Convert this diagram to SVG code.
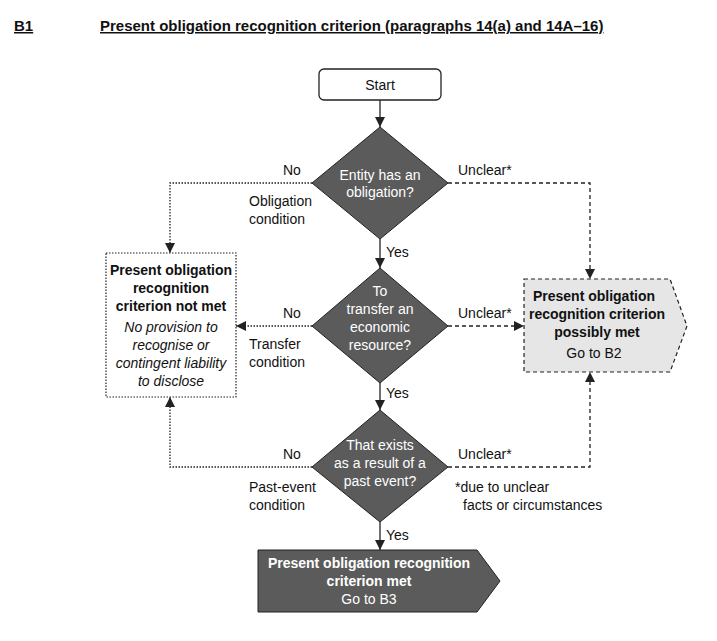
<svg xmlns="http://www.w3.org/2000/svg" width="717" height="641" viewBox="0 0 717 641">
<style>
text{font-family:"Liberation Sans Narrow","Liberation Sans",Arial,sans-serif;font-size:14px;fill:#111}
.b{font-weight:bold}
.w{fill:#fff}
.i{font-style:italic}
.dia{fill:#5b5b5b;stroke:#222;stroke-width:1}
.sol{fill:none;stroke:#222;stroke-width:1.3}
.dot{fill:none;stroke:#222;stroke-width:1.3;stroke-dasharray:1.5 1.5}
.dash{fill:none;stroke:#222;stroke-width:1.3;stroke-dasharray:4 3}
</style>
<defs><marker id="a" viewBox="0 0 10 10" refX="10" refY="5" markerWidth="10" markerHeight="10" markerUnits="userSpaceOnUse" orient="auto"><path d="M0 0L10 5L0 10z" fill="#222"/></marker></defs>
<text x="14" y="31" class="b" style="font-size:15px;text-decoration:underline">B1</text>
<text x="100" y="31" class="b" style="font-size:15px;text-decoration:underline">Present obligation recognition criterion (paragraphs 14(a) and 14A–16)</text>
<g id="connectors">
<path class="sol" d="M380 100V127" marker-end="url(#a)"/>
<path class="sol" d="M380 239V268" marker-end="url(#a)"/>
<path class="sol" d="M380 383V410" marker-end="url(#a)"/>
<path class="sol" d="M380 522V550" marker-end="url(#a)"/>
<path class="dot" d="M312 183H170V253" marker-end="url(#a)"/>
<path class="dot" d="M312 326H236" marker-end="url(#a)"/>
<path class="dot" d="M312 467H170V397" marker-end="url(#a)"/>
<path class="dash" d="M448 183H590V279" marker-end="url(#a)"/>
<path class="dash" d="M448 326H524" marker-end="url(#a)"/>
<path class="dash" d="M448 467H590V372" marker-end="url(#a)"/>
<text x="283" y="175">No</text>
<text x="458" y="175">Unclear*</text>
<text x="249" y="206">Obligation</text>
<text x="249" y="224">condition</text>
<text x="386" y="257">Yes</text>
<text x="283" y="318">No</text>
<text x="458" y="318">Unclear*</text>
<text x="249" y="349">Transfer</text>
<text x="249" y="367">condition</text>
<text x="386" y="398">Yes</text>
<text x="283" y="459">No</text>
<text x="458" y="459">Unclear*</text>
<text x="249" y="492">Past-event</text>
<text x="249" y="510">condition</text>
<text x="455" y="492">*due to unclear</text>
<text x="463" y="510">facts or circumstances</text>
<text x="386" y="540">Yes</text>
</g>
<g id="start"><rect x="319" y="69" width="122" height="31" rx="5" fill="#fff" stroke="#222" stroke-width="1.3"/><text x="380" y="90" text-anchor="middle">Start</text></g>
<g id="d1"><path class="dia" d="M380 127L448 183L380 239L312 183z"/><text class="w" text-anchor="middle"><tspan x="380" y="180">Entity has an</tspan><tspan x="380" y="197">obligation?</tspan></text></g>
<g id="d2"><path class="dia" d="M380 268L448 326L380 383L312 326z"/><text class="w" text-anchor="middle"><tspan x="380" y="296">To</tspan><tspan x="380" y="314">transfer an</tspan><tspan x="380" y="332">economic</tspan><tspan x="380" y="350">resource?</tspan></text></g>
<g id="d3"><path class="dia" d="M380 410L448 467L380 522L312 467z"/><text class="w" text-anchor="middle"><tspan x="380" y="450">That exists</tspan><tspan x="380" y="468">as a result of a</tspan><tspan x="380" y="486">past event?</tspan></text></g>
<g id="notmet"><rect x="106" y="253" width="130" height="144" fill="#fff" stroke="#222" stroke-width="1.2" stroke-dasharray="1.5 1.5"/><text text-anchor="middle"><tspan x="171" y="275" class="b">Present obligation</tspan><tspan x="171" y="293" class="b">recognition</tspan><tspan x="171" y="311" class="b">criterion not met</tspan><tspan x="171" y="332" class="i">No provision to</tspan><tspan x="171" y="350" class="i">recognise or</tspan><tspan x="171" y="368" class="i">contingent liability</tspan><tspan x="171" y="386" class="i">to disclose</tspan></text></g>
<g id="possibly"><path d="M524 279H670L687 326L670 372H524z" fill="#e6e6e6" stroke="#222" stroke-width="1.2" stroke-dasharray="4 3"/><text text-anchor="middle"><tspan x="594" y="301" class="b">Present obligation</tspan><tspan x="597" y="319" class="b">recognition criterion</tspan><tspan x="597" y="337" class="b">possibly met</tspan><tspan x="594" y="358">Go to B2</tspan></text></g>
<g id="met"><path d="M258 550H477L500 581L477 612H258z" fill="#5b5b5b" stroke="#222" stroke-width="1"/><text text-anchor="middle" class="w"><tspan x="369" y="568" class="b w">Present obligation recognition</tspan><tspan x="369" y="586" class="b w">criterion met</tspan><tspan x="369" y="604" class="w">Go to B3</tspan></text></g>
</svg>
